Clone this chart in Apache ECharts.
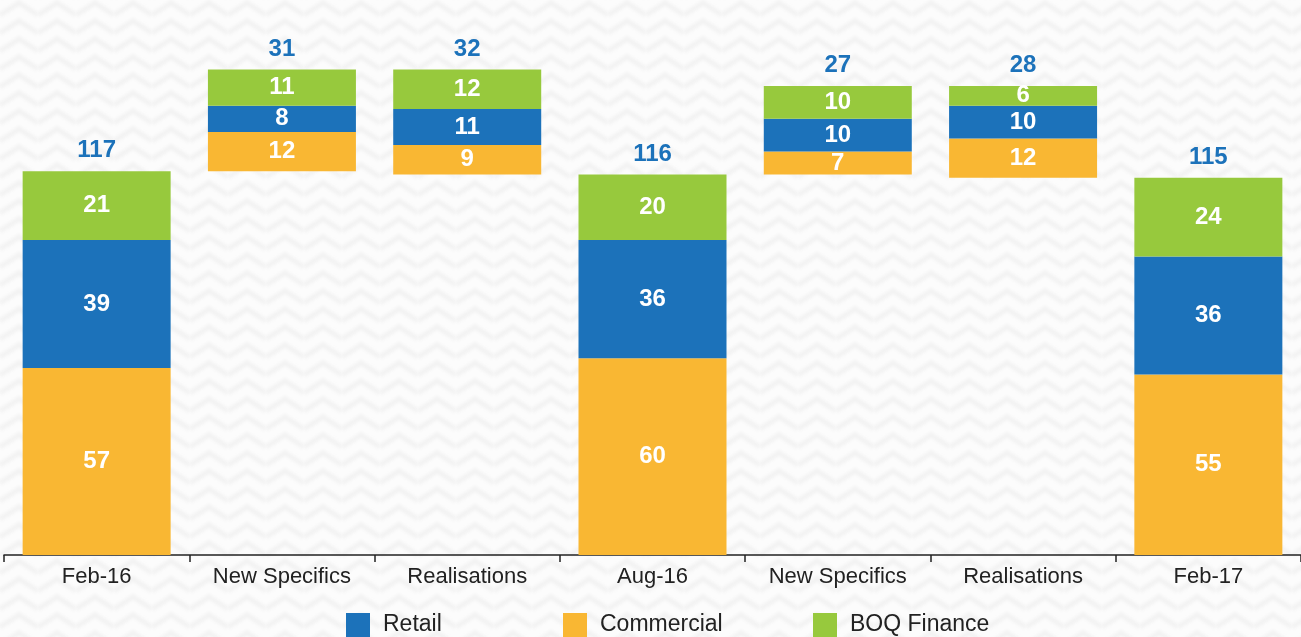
<!DOCTYPE html>
<html>
<head>
<meta charset="utf-8">
<script src="https://cdn.jsdelivr.net/npm/echarts@6/dist/echarts.min.js"></script>
<style>
  html, body { margin: 0; padding: 0; background: #fff; }
  #chart { width: 1301px; height: 637px; }
</style>
</head>
<body>
<div id="chart"></div>
<script>
var categories = ['Feb-16', 'New Specifics', 'Realisations', 'Aug-16', 'New Specifics', 'Realisations', 'Feb-17'];
// total = full bar from zero, up = adds to running total, down = takes from it
var kinds = ['total', 'up', 'down', 'total', 'up', 'down', 'total'];
var commercial = [57, 12, 9, 60, 7, 12, 55];
var retail = [39, 8, 11, 36, 10, 10, 36];
var boqFinance = [21, 11, 12, 20, 10, 6, 24];

var totals = [], bases = [], tops = [];
var running = 0;
for (var i = 0; i < categories.length; i++) {
	var t = commercial[i] + retail[i] + boqFinance[i];
	totals.push(t);
	if (kinds[i] === 'total') {
		bases.push(0);
		running = t;
	} else if (kinds[i] === 'up') {
		bases.push(running);
		running += t;
	} else {
		running -= t;
		bases.push(running);
	}
	tops.push(bases[i] + t);
}

// soft chevron background
var pat = document.createElement('canvas');
pat.width = 38; pat.height = 18;
var ctx = pat.getContext('2d');
ctx.fillStyle = '#fcfcfc';
ctx.fillRect(0, 0, 38, 18);
ctx.strokeStyle = '#f2f2f2';
ctx.lineWidth = 5;
ctx.filter = 'blur(1.5px)';
for (var k = -1; k <= 1; k++) {
	ctx.beginPath();
	ctx.moveTo(0, 15 + k * 18);
	ctx.lineTo(19, 3 + k * 18);
	ctx.lineTo(38, 15 + k * 18);
	ctx.stroke();
}

var FONT = "'Liberation Sans Narrow', 'Arial Narrow', 'Liberation Sans', sans-serif";
var segLabel = {
	show: true,
	position: 'inside',
	color: '#fff',
	fontFamily: FONT,
	fontWeight: 'bold',
	fontSize: 24
};

function legendAt(name, x) {
	return {
		data: [name],
		left: x - 5,
		top: 608,
		itemWidth: 24,
		itemHeight: 24,
		icon: 'rect',
		selectedMode: false,
		textStyle: {
			fontFamily: FONT,
			fontSize: 23,
			color: '#222',
			padding: [10, 0, 0, 8]
		}
	};
}

var myChart = echarts.init(document.getElementById('chart'));

option = {
	backgroundColor: { image: pat, repeat: 'repeat' },
	animation: false,
	grid: {
		left: 4,
		width: 1307,
		top: 63,
		bottom: 82
	},
	legend: [
		legendAt('Retail', 346),
		legendAt('Commercial', 563),
		legendAt('BOQ Finance', 813)
	],
	xAxis: {
		type: 'category',
		data: categories,
		axisLine: { lineStyle: { color: '#222', width: 1.5 } },
		axisTick: { show: true, interval: 0, length: 7, lineStyle: { color: '#222', width: 1.5 } },
		axisLabel: {
			interval: 0,
			color: '#222',
			fontFamily: FONT,
			fontSize: 22,
			margin: 11
		}
	},
	yAxis: {
		type: 'value',
		min: 0,
		max: 150,
		show: false,
		splitLine: { show: false }
	},
	series: [{
		name: 'base',
		type: 'bar',
		stack: 'w',
		barWidth: 148,
		silent: true,
		itemStyle: { color: 'transparent' },
		data: bases
	}, {
		name: 'Commercial',
		type: 'bar',
		stack: 'w',
		itemStyle: { color: '#F9B733' },
		label: segLabel,
		data: commercial
	}, {
		name: 'Retail',
		type: 'bar',
		stack: 'w',
		itemStyle: { color: '#1C72BA' },
		label: segLabel,
		data: retail
	}, {
		name: 'BOQ Finance',
		type: 'bar',
		stack: 'w',
		itemStyle: { color: '#97C93D' },
		label: segLabel,
		data: boqFinance
	}, {
		name: 'total',
		type: 'scatter',
		symbolSize: 1,
		silent: true,
		itemStyle: { color: 'transparent', opacity: 1 },
		label: {
			show: true,
			position: 'top',
			distance: 8,
			color: '#1C72BA',
			opacity: 1,
			fontFamily: FONT,
			fontWeight: 'bold',
			fontSize: 24,
			formatter: function (p) { return totals[p.dataIndex]; }
		},
		data: tops
	}]
};

myChart.setOption(option);
</script>
</body>
</html>
